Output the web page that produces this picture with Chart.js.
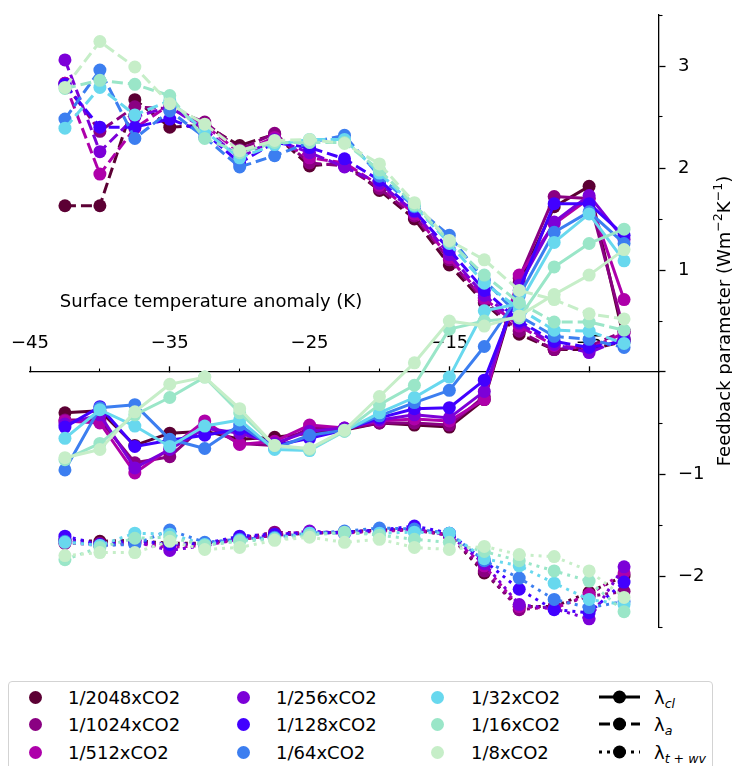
<!DOCTYPE html>
<html><head><meta charset="utf-8">
<script src="https://cdn.jsdelivr.net/npm/chart.js@4.4.1/dist/chart.umd.min.js"></script>
<style>
html,body{margin:0;padding:0;background:#fff;overflow:hidden}
#wrap{position:relative;width:732px;height:766px;font-family:'DejaVu Sans',sans-serif;overflow:hidden}
#c{position:absolute;left:0;top:0}
#legbox{position:absolute;left:8px;top:681px;width:705px;height:120px;border:1.5px solid #d3d3d3;border-radius:4px;box-sizing:border-box;background:#fff}
.lt{position:absolute;font-size:18px;line-height:22px;height:22px;color:#000;white-space:nowrap}
.mk{position:absolute;width:13px;height:13px;border-radius:50%}
.ls{position:absolute}
</style></head>
<body><div id="wrap"><canvas id="c" width="732" height="766"></canvas><div id="legbox"></div></div>
<script>
// ---------------- data ----------------
const xValues = [-42.5,-40,-37.5,-35,-32.5,-30,-27.5,-25,-22.5,-20,-17.5,-15,-12.5,-10,-7.5,-5,-2.5];
const levels = ['1/2048xCO2','1/1024xCO2','1/512xCO2','1/256xCO2','1/128xCO2','1/64xCO2','1/32xCO2','1/16xCO2','1/8xCO2'];
const levelColors = ['#5c0034','#8a0082','#ae00aa','#7c00d8','#4200ff','#3c7ef0','#68d8ee','#9ae6c8','#c6eec8'];
const xTickLabels = [-45,-35,-25,-15,-5];
const xMinorTicks = [-40,-30,-20,-10];
const yTickLabels = [-2,-1,0,1,2,3];
const yMinorTicks = [-2.5,-1.5,-0.5,0.5,1.5,2.5,3.5];

// lambda_cl (solid)
const cl_2048 = [-0.40,-0.38,-0.72,-0.60,-0.58,-0.66,-0.64,-0.60,-0.57,-0.50,-0.52,-0.54,-0.27,0.88,1.62,1.82,0.32];
const cl_1024 = [-0.47,-0.47,-0.89,-0.83,-0.52,-0.70,-0.72,-0.55,-0.56,-0.50,-0.50,-0.52,-0.24,0.92,1.72,1.70,0.40];
const cl_512  = [-0.48,-0.50,-0.99,-0.75,-0.48,-0.71,-0.68,-0.52,-0.55,-0.48,-0.46,-0.48,-0.27,0.95,1.45,1.70,0.71];
const cl_256  = [-0.51,-0.42,-0.94,-0.76,-0.55,-0.60,-0.70,-0.58,-0.55,-0.47,-0.42,-0.45,-0.19,0.85,1.47,1.73,1.30];
const cl_128  = [-0.54,-0.34,-0.73,-0.67,-0.62,-0.56,-0.72,-0.65,-0.57,-0.45,-0.36,-0.35,-0.08,0.80,1.65,1.65,1.34];
const cl_64   = [-0.96,-0.35,-0.32,-0.66,-0.75,-0.52,-0.75,-0.62,-0.57,-0.43,-0.30,-0.18,0.25,0.75,1.37,1.57,1.26];
const cl_32   = [-0.65,-0.37,-0.53,-0.73,-0.53,-0.47,-0.76,-0.77,-0.58,-0.40,-0.25,-0.05,0.60,0.67,1.27,1.55,1.09];
const cl_16   = [-0.86,-0.70,-0.42,-0.25,-0.05,-0.40,-0.72,-0.76,-0.58,-0.32,-0.13,0.42,0.50,0.53,1.03,1.26,1.40];
const cl_8    = [-0.84,-0.76,-0.39,-0.12,-0.05,-0.36,-0.72,-0.75,-0.57,-0.24,0.09,0.50,0.45,0.55,0.76,0.95,1.20];

// lambda_a (dashed)
const a_2048 = [1.63,1.63,2.67,2.40,2.42,2.22,2.33,2.02,2.05,1.78,1.50,1.05,0.68,0.37,0.22,0.22,0.30];
const a_1024 = [2.83,2.36,2.60,2.58,2.45,2.18,2.34,2.05,2.02,1.80,1.53,1.10,0.70,0.40,0.22,0.25,0.40];
const a_512  = [2.83,1.94,2.39,2.62,2.42,2.15,2.30,2.10,2.05,1.83,1.55,1.12,0.72,0.45,0.26,0.23,0.38];
const a_256  = [3.06,2.16,2.50,2.60,2.38,2.10,2.28,2.15,2.01,1.85,1.57,1.15,0.75,0.48,0.27,0.19,0.33];
const a_128  = [2.82,2.40,2.40,2.48,2.35,2.05,2.25,2.20,2.09,1.88,1.58,1.20,0.80,0.50,0.30,0.24,0.30];
const a_64   = [2.48,2.96,2.29,2.56,2.30,2.01,2.12,2.25,2.32,1.92,1.62,1.34,0.90,0.55,0.35,0.32,0.24];
const a_32   = [2.39,2.79,2.52,2.66,2.36,2.10,2.23,2.28,2.28,1.95,1.63,1.26,0.87,0.62,0.41,0.40,0.28];
const a_16   = [2.78,2.86,2.82,2.71,2.29,2.15,2.25,2.25,2.25,1.98,1.64,1.28,0.95,0.68,0.49,0.49,0.41];
const a_8    = [2.79,3.24,2.99,2.63,2.43,2.17,2.27,2.28,2.24,2.04,1.66,1.29,1.10,0.80,0.71,0.57,0.52];

// lambda_t+wv (dotted)
const twv_2048 = [-1.65,-1.66,-1.65,-1.68,-1.68,-1.64,-1.60,-1.58,-1.57,-1.55,-1.55,-1.60,-1.97,-2.30,-2.30,-2.16,-2.00];
const twv_1024 = [-1.68,-1.68,-1.67,-1.70,-1.68,-1.63,-1.57,-1.58,-1.57,-1.55,-1.54,-1.60,-1.95,-2.33,-2.30,-2.20,-2.15];
const twv_512  = [-1.67,-1.70,-1.68,-1.72,-1.70,-1.64,-1.60,-1.57,-1.58,-1.56,-1.55,-1.60,-1.90,-2.30,-2.32,-2.18,-1.97];
const twv_256  = [-1.64,-1.70,-1.66,-1.75,-1.70,-1.63,-1.60,-1.56,-1.58,-1.55,-1.54,-1.60,-1.88,-2.28,-2.32,-2.42,-1.91];
const twv_128  = [-1.61,-1.69,-1.65,-1.69,-1.68,-1.61,-1.59,-1.58,-1.57,-1.55,-1.51,-1.58,-1.85,-2.13,-2.33,-2.36,-2.06];
const twv_64   = [-1.66,-1.70,-1.69,-1.55,-1.67,-1.64,-1.62,-1.58,-1.56,-1.53,-1.54,-1.58,-1.85,-2.02,-2.23,-2.31,-2.25];
const twv_32   = [-1.67,-1.70,-1.58,-1.59,-1.69,-1.65,-1.63,-1.58,-1.58,-1.58,-1.57,-1.58,-1.83,-1.90,-2.07,-2.23,-2.28];
const twv_16   = [-1.84,-1.72,-1.63,-1.62,-1.70,-1.66,-1.64,-1.60,-1.57,-1.60,-1.64,-1.67,-1.76,-1.85,-1.95,-2.05,-2.35];
const twv_8    = [-1.80,-1.77,-1.77,-1.66,-1.74,-1.72,-1.65,-1.62,-1.67,-1.64,-1.72,-1.74,-1.71,-1.79,-1.81,-1.95,-2.21];

const clSeries  = [cl_2048, cl_1024, cl_512, cl_256, cl_128, cl_64, cl_32, cl_16, cl_8];
const aSeries   = [a_2048, a_1024, a_512, a_256, a_128, a_64, a_32, a_16, a_8];
const twvSeries = [twv_2048, twv_1024, twv_512, twv_256, twv_128, twv_64, twv_32, twv_16, twv_8];

const xTitle = 'Surface temperature anomaly (K)';
const styleNames = ['cl','a','t + wv'];

// ---------------- chart ----------------
const MINUS = '\u2212';
const fmt = v => (v < 0 ? MINUS + Math.abs(v) : String(v));
const dashes = [[], [11, 5], [3, 5]];

const datasets = [];
levels.forEach((lev, k) => {
  [clSeries[k], aSeries[k], twvSeries[k]].forEach((arr, s) => {
    datasets.push({
      label: lev + ' ' + styleNames[s],
      data: arr.map((y, i) => ({x: xValues[i], y})),
      borderColor: levelColors[k],
      backgroundColor: levelColors[k],
      pointBackgroundColor: levelColors[k],
      pointBorderWidth: 0,
      pointRadius: 6.5,
      pointHoverRadius: 6.5,
      borderWidth: 3,
      borderDash: dashes[s],
      borderCapStyle: 'butt',
      borderJoinStyle: 'round',
      tension: 0,
      fill: false
    });
  });
});
datasets.reverse(); // first plotted ends at bottom

const titlePlugin = {
  id: 'titles',
  afterDraw(chart) {
    const ctx = chart.ctx;
    const ca = chart.chartArea;
    ctx.save();
    ctx.fillStyle = '#000';
    ctx.font = '18px "DejaVu Sans"';
    ctx.textAlign = 'center';
    ctx.textBaseline = 'middle';
    ctx.fillText(xTitle, 211, 302);
    // y title, rotated, with superscripts
    const parts = [['Feedback parameter (Wm', 0], [MINUS + '2', 1], ['K', 0], [MINUS + '1', 1], [')', 0]];
    const big = '18px "DejaVu Sans"', small = '12.6px "DejaVu Sans"';
    let total = 0;
    parts.forEach(p => { ctx.font = p[1] ? small : big; total += ctx.measureText(p[0]).width; });
    ctx.translate(729.5, (ca.top + ca.bottom) / 2);
    ctx.rotate(-Math.PI / 2);
    ctx.textAlign = 'left';
    ctx.textBaseline = 'alphabetic';
    let x = -total / 2;
    parts.forEach(p => {
      ctx.font = p[1] ? small : big;
      ctx.fillText(p[0], x, p[1] ? -7.5 : 0);
      x += ctx.measureText(p[0]).width;
    });
    ctx.restore();
  }
};

new Chart(document.getElementById('c'), {
  type: 'line',
  data: {datasets},
  options: {
    responsive: false,
    animation: false,
    events: [],
    layout: {padding: {left: 30, top: 15, right: 23, bottom: 139}},
    plugins: {legend: {display: false}, tooltip: {enabled: false}},
    scales: {
      x: {
        type: 'linear', min: -45, max: 0, position: {y: 0},
        afterBuildTicks: s => { s.ticks = xTickLabels.map(v => ({value: v})); },
        afterFit: s => { s.paddingLeft = 0; s.paddingRight = 0; },
        grid: {drawOnChartArea: false, drawTicks: true, tickLength: -6, tickWidth: 1.3, tickColor: '#000'},
        border: {display: true, color: '#000', width: 1.3},
        ticks: {padding: -33.5, color: '#000', font: {family: 'DejaVu Sans', size: 18}, maxRotation: 0, autoSkip: false, callback: v => fmt(v)}
      },
      xMinor: {
        type: 'linear', min: -45, max: 0, position: {y: 0},
        afterBuildTicks: s => { s.ticks = xMinorTicks.map(v => ({value: v})); },
        afterFit: s => { s.paddingLeft = 0; s.paddingRight = 0; },
        grid: {drawOnChartArea: false, drawTicks: true, tickLength: -3.5, tickWidth: 1.1, tickColor: '#000'},
        border: {display: false},
        ticks: {display: false}
      },
      y: {
        type: 'linear', min: -2.5, max: 3.5, position: 'right',
        afterBuildTicks: s => { s.ticks = yTickLabels.map(v => ({value: v})); },
        afterFit: s => { s.width = 50; s.paddingTop = 0; s.paddingBottom = 0; },
        grid: {drawOnChartArea: false, drawTicks: true, tickLength: 6.5, tickWidth: 1.3, tickColor: '#000'},
        border: {display: true, color: '#000', width: 1.3},
        ticks: {padding: 12.5, color: '#000', font: {family: 'DejaVu Sans', size: 18}, autoSkip: false, callback: v => (v === 0 ? '' : fmt(v))}
      },
      yMinor: {
        type: 'linear', min: -2.5, max: 3.5, position: {x: 0},
        afterBuildTicks: s => { s.ticks = yMinorTicks.map(v => ({value: v})); },
        afterFit: s => { s.paddingTop = 0; s.paddingBottom = 0; },
        grid: {drawOnChartArea: false, drawTicks: true, tickLength: -3.5, tickWidth: 1.1, tickColor: '#000'},
        border: {display: false},
        ticks: {display: false}
      }
    }
  },
  plugins: [titlePlugin]
});

// ---------------- legend (HTML) ----------------
const wrap = document.getElementById('wrap');
const rowY = [697, 724, 752];
const colMarkX = [35, 243, 437];
const colTextX = [68, 276, 471];
levels.forEach((lev, k) => {
  const col = Math.floor(k / 3), row = k % 3;
  const m = document.createElement('div');
  m.className = 'mk';
  m.style.left = (colMarkX[col] - 6.5) + 'px';
  m.style.top = (rowY[row] - 6.5) + 'px';
  m.style.background = levelColors[k];
  wrap.appendChild(m);
  const t = document.createElement('div');
  t.className = 'lt';
  t.style.left = colTextX[col] + 'px';
  t.style.top = (rowY[row] - 10.5) + 'px';
  t.textContent = lev;
  wrap.appendChild(t);
});
const svgDash = ['', '11,5', '3,5'];
const lamSubs = ['cl', 'a', 't + wv'];
lamSubs.forEach((sub, r) => {
  const d = document.createElement('div');
  d.className = 'ls';
  d.style.left = '599px';
  d.style.top = (rowY[r] - 8) + 'px';
  d.innerHTML = '<svg width="41" height="16" xmlns="http://www.w3.org/2000/svg"><line x1="0" y1="8" x2="41" y2="8" stroke="#000" stroke-width="3" ' +
    (svgDash[r] ? 'stroke-dasharray="' + svgDash[r] + '"' : '') + '/><circle cx="20.5" cy="8" r="6.5" fill="#000"/></svg>';
  wrap.appendChild(d);
  const t = document.createElement('div');
  t.className = 'lt';
  t.style.left = '654px';
  t.style.top = (rowY[r] - 10.5) + 'px';
  t.innerHTML = '\u03bb<sub style="font-size:12.6px;font-style:italic;vertical-align:-4px;line-height:0">' + sub + '</sub>';
  wrap.appendChild(t);
});
</script></body></html>
